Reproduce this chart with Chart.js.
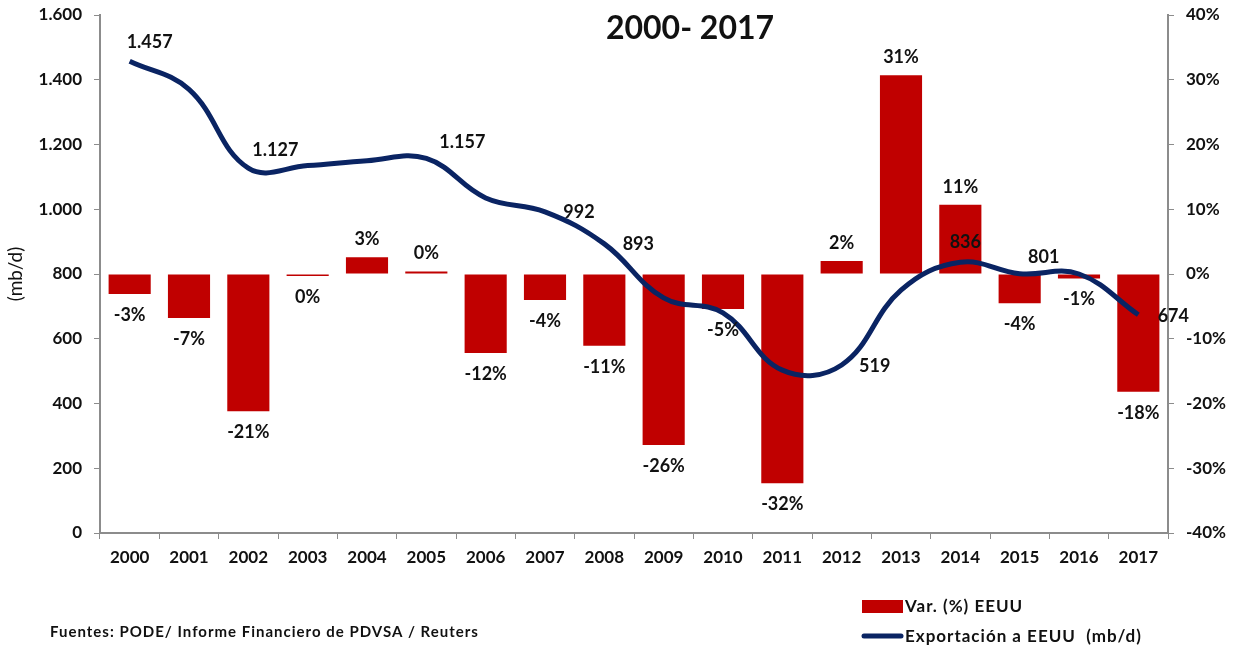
<!DOCTYPE html>
<html>
<head>
<meta charset="utf-8">
<script src="https://cdn.jsdelivr.net/npm/chart.js@4.4.1/dist/chart.umd.min.js"></script>
<style>
  body { margin: 0; background: #fff; }
  canvas { display: block; }
</style>
</head>
<body>
<canvas id="exportChart" width="1242" height="647"></canvas>
<script>
var years = ['2000', '2001', '2002', '2003', '2004', '2005', '2006', '2007', '2008',
             '2009', '2010', '2011', '2012', '2013', '2014', '2015', '2016', '2017'];
var exportMbd = [1457, 1370, 1127, 1135, 1150, 1157, 1035, 992, 893,
                 726, 680, 503, 519, 750, 836, 801, 800, 674];
var varPct = [-3.1, -6.8, -21.2, -0.3, 2.6, 0.4, -12.2, -4.0, -11.1,
              -26.4, -5.4, -32.3, 2.0, 30.7, 10.7, -4.5, -0.7, -18.2];
var leftTicks = [0, 200, 400, 600, 800, 1000, 1200, 1400, 1600];
var rightTicks = [-40, -30, -20, -10, 0, 10, 20, 30, 40];

var FONT = "Lato, 'Open Sans', sans-serif";
var RED = '#c00000';
var NAVY = '#0a2463';
var AXIS = '#8c8c8c';

function miles(v) {
    return String(v).replace(/\B(?=(\d{3})+(?!\d))/g, '.');
}

// which line points carry a value label, and where it sits relative to the point
var lineLabelOffsets = {
    0: [20, -19], 2: [27, -18], 5: [36, -16], 7: [34, 0], 8: [34, 0],
    12: [33, 1], 14: [5, -20], 15: [24, -16], 17: [35, 1]
};

var extraText = {
    id: 'extraText',
    afterDatasetsDraw: function (chart) {
        var ctx = chart.ctx;
        ctx.save();
        ctx.fillStyle = '#111';
        ctx.textAlign = 'center';
        ctx.textBaseline = 'middle';

        // bar labels
        ctx.font = 'bold 18px ' + FONT;
        chart.getDatasetMeta(0).data.forEach(function (bar, i) {
            var v = varPct[i];
            var txt = (Math.round(v) === 0 ? 0 : Math.round(v)) + '%';
            var y = v >= 0 ? bar.y - 18 : bar.y + 21;
            ctx.fillText(txt, bar.x, y);
        });

        // line labels
        chart.getDatasetMeta(1).data.forEach(function (pt, i) {
            var off = lineLabelOffsets[i];
            if (!off) return;
            ctx.fillText(miles(exportMbd[i]), pt.x + off[0], pt.y + off[1]);
        });

        // title
        ctx.font = 'bold 32px ' + FONT;
        ctx.fillText('2000- 2017', 690, 29);

        // legend
        ctx.textAlign = 'left';
        ctx.letterSpacing = '1px';
        ctx.font = 'bold 17px ' + FONT;
        ctx.fillStyle = RED;
        ctx.fillRect(862, 600, 41, 13);
        ctx.fillStyle = '#111';
        ctx.fillText('Var. (%) EEUU', 905, 607);
        ctx.strokeStyle = NAVY;
        ctx.lineWidth = 5;
        ctx.lineCap = 'round';
        ctx.beginPath();
        ctx.moveTo(864, 636);
        ctx.lineTo(901, 636);
        ctx.stroke();
        ctx.fillText('Exportación a EEUU  (mb/d)', 905, 637);

        // source
        ctx.font = 'bold 15px ' + FONT;
        ctx.fillText('Fuentes: PODE/ Informe Financiero de PDVSA / Reuters', 50, 632);
        ctx.restore();
    }
};

function noPad(s) {
    s.paddingTop = 0;
    s.paddingBottom = 0;
}

Chart.defaults.font.family = FONT;
Chart.defaults.color = '#111';

var chart = new Chart(document.getElementById('exportChart'), {
    data: {
        labels: years,
        datasets: [{
            type: 'bar',
            label: 'Var. (%) EEUU',
            data: varPct,
            yAxisID: 'y1',
            backgroundColor: RED,
            barPercentage: 0.71,
            categoryPercentage: 1,
            order: 2
        }, {
            type: 'line',
            label: 'Exportación a EEUU  (mb/d)',
            data: exportMbd,
            yAxisID: 'y',
            borderColor: NAVY,
            borderWidth: 5,
            tension: 0.4,
            pointRadius: 0,
            fill: false,
            order: 1
        }]
    },
    options: {
        responsive: false,
        animation: false,
        layout: { autoPadding: false, padding: { top: 15, left: 0, right: 0, bottom: 0 } },
        plugins: {
            legend: { display: false },
            tooltip: { enabled: false }
        },
        scales: {
            x: {
                grid: { display: true, drawOnChartArea: false, drawTicks: true, tickLength: 6, color: AXIS, offset: true },
                border: { display: true, color: AXIS, width: 2 },
                ticks: { font: { size: 17, weight: 'bold' }, padding: 8, maxRotation: 0 },
                afterFit: function (s) { s.height = 114; s.paddingLeft = 0; s.paddingRight = 0; }
            },
            y: {
                position: 'left',
                min: 0,
                max: 1600,
                afterBuildTicks: function (s) { s.ticks = leftTicks.map(function (v) { return { value: v }; }); },
                grid: { drawOnChartArea: false, drawTicks: true, tickLength: 6, color: AXIS },
                border: { display: true, color: AXIS, width: 2 },
                ticks: { font: { size: 17, weight: 'bold' }, padding: 12, callback: function (v) { return miles(v); } },
                title: { display: true, text: '(mb/d)', font: { size: 19 }, padding: { top: 4, bottom: 0 } },
                afterFit: function (s) { s.width = 100; noPad(s); }
            },
            y1: {
                position: 'right',
                min: -40,
                max: 40,
                afterBuildTicks: function (s) { s.ticks = rightTicks.map(function (v) { return { value: v }; }); },
                grid: { drawOnChartArea: false, drawTicks: true, tickLength: 6, color: AXIS },
                border: { display: true, color: AXIS, width: 2 },
                ticks: { font: { size: 17, weight: 'bold' }, padding: 12, callback: function (v) { return v + '%'; } },
                afterFit: function (s) { s.width = 74; noPad(s); }
            }
        }
    },
    plugins: [extraText]
});
</script>
</body>
</html>
